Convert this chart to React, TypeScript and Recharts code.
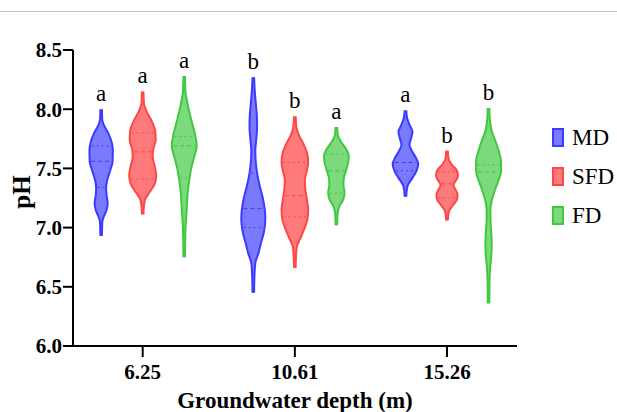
import React from 'react';
import { ComposedChart, Area, XAxis, YAxis, ReferenceLine, ReferenceDot, Label } from 'recharts';

const depths = ['6.25', '10.61', '15.26'];
const treatments = ['MD', 'SFD', 'FD'];
const yTicks = [6.0, 6.5, 7.0, 7.5, 8.0, 8.5];

// significance letters, one row per depth (MD, SFD, FD)
const letters = [
  ['a', 'a', 'a'],
  ['b', 'b', 'a'],
  ['a', 'b', 'b'],
];

const medians = [
  [7.56, 7.64, 7.69],
  [7.16, 7.27, 7.48],
  [7.55, 7.37, 7.47],
];
const upperQuartiles = [
  [7.69, 7.8, 7.77],
  [7.46, 7.55, 7.62],
  [null, 7.47, 7.53],
];
const lowerQuartiles = [
  [7.34, 7.41, 7.42],
  [7.0, 7.09, 7.29],
  [7.48, 7.25, null],
];

// violin outlines: [pH, density]
const md625 = [
  [8.0, 0.8], [7.92, 1.0], [7.87, 2.5], [7.8, 7], [7.72, 10.5], [7.65, 11.7], [7.56, 11.5],
  [7.48, 9], [7.4, 6], [7.33, 5], [7.27, 5.5], [7.21, 6.5], [7.15, 5.5], [7.1, 3], [7.05, 1.2], [6.93, 0.8],
];
const sfd625 = [
  [8.15, 0.8], [8.05, 1.2], [7.98, 4], [7.9, 9], [7.82, 12.5], [7.74, 13], [7.66, 10.5], [7.6, 10],
  [7.52, 12], [7.44, 13.5], [7.37, 12], [7.3, 7], [7.24, 2.5], [7.18, 1.2], [7.11, 0.8],
];
const fd625 = [
  [8.28, 0.8], [8.15, 1.2], [8.08, 2.5], [7.98, 5], [7.88, 8], [7.78, 11], [7.69, 12.5], [7.6, 10],
  [7.5, 7], [7.4, 5], [7.3, 3.5], [7.2, 2.8], [7.1, 2], [7.0, 1.3], [6.9, 1], [6.75, 0.8],
];
const md1061 = [
  [8.27, 0.8], [8.15, 1.5], [8.05, 2.5], [7.95, 3.5], [7.85, 3.8], [7.75, 3], [7.65, 2], [7.55, 2.5],
  [7.45, 4], [7.35, 6.5], [7.25, 9.5], [7.15, 11.5], [7.07, 12], [6.98, 11], [6.88, 8], [6.78, 5],
  [6.7, 2], [6.6, 1.2], [6.45, 0.8],
];
const sfd1061 = [
  [7.94, 0.8], [7.85, 1.5], [7.78, 4], [7.7, 9], [7.62, 12.5], [7.55, 13.3], [7.48, 12], [7.4, 10],
  [7.32, 10.5], [7.24, 12], [7.15, 13.3], [7.07, 12.5], [6.98, 9], [6.9, 5], [6.84, 2], [6.76, 1.2], [6.66, 0.8],
];
const fd1061 = [
  [7.85, 0.8], [7.78, 1.5], [7.72, 5], [7.66, 10], [7.6, 12.5], [7.54, 11.5], [7.48, 9.5], [7.42, 7.5],
  [7.36, 7], [7.3, 8.2], [7.24, 7], [7.18, 3], [7.12, 1.2], [7.02, 0.8],
];
const md1526 = [
  [7.99, 0.8], [7.93, 1.5], [7.87, 4], [7.81, 7], [7.75, 5.5], [7.7, 4], [7.64, 7], [7.58, 11],
  [7.54, 12.8], [7.48, 11], [7.42, 7], [7.36, 2.5], [7.31, 1.2], [7.26, 0.8],
];
const sfd1526 = [
  [7.65, 0.8], [7.58, 1.5], [7.53, 5], [7.48, 10], [7.44, 11], [7.4, 9], [7.36, 6.5], [7.32, 8.5],
  [7.28, 10.5], [7.24, 10], [7.19, 6], [7.14, 2], [7.1, 1.2], [7.06, 0.8],
];
const fd1526 = [
  [8.01, 0.8], [7.9, 1.5], [7.82, 3], [7.74, 6.5], [7.65, 10], [7.56, 12.5], [7.48, 12.5], [7.4, 10],
  [7.32, 6.5], [7.22, 3], [7.14, 1.8], [7.05, 2], [6.95, 2.8], [6.85, 3.2], [6.75, 2.6], [6.65, 1.5],
  [6.55, 1], [6.36, 0.8],
];

const profiles = [
  [md625, sfd625, fd625],
  [md1061, sfd1061, fd1061],
  [md1526, sfd1526, fd1526],
];

const COLORS = [
  { stroke: '#3b3bff', fill: '#7a7aff' },
  { stroke: '#ff4646', fill: '#ff7a7a' },
  { stroke: '#40c840', fill: '#7cd97c' },
];
const OFFSET = 0.273;
const WIDTH = 0.00657;
const FONT = '"Liberation Serif", "Times New Roman", serif';

// half width of a violin at a given pH (for the quartile lines)
const widthAt = (profile: number[][], ph: number) => {
  for (let i = 0; i < profile.length - 1; i++) {
    const [p0, d0] = profile[i];
    const [p1, d1] = profile[i + 1];
    if (ph <= p0 && ph >= p1) return d0 + ((p0 - ph) / (p0 - p1)) * (d1 - d0);
  }
  return 0;
};

export default function App() {
  const areas: React.ReactNode[] = [];
  const lines: React.ReactNode[] = [];
  const dots: React.ReactNode[] = [];

  depths.forEach((_, g) => {
    treatments.forEach((t, s) => {
      const profile = profiles[g][s];
      const cx = g + (s - 1) * OFFSET;
      const color = COLORS[s];
      const data = profile.map(([ph, d]) => ({ ph, range: [cx - d * WIDTH, cx + d * WIDTH] }));
      areas.push(
        <Area
          key={`a-${g}-${s}`}
          data={data}
          dataKey="range"
          type="monotone"
          stroke={color.stroke}
          strokeWidth={2}
          fill={color.fill}
          fillOpacity={1}
          dot={false}
          activeDot={false}
          isAnimationActive={false}
        />
      );
      const stats: [number | null, string][] = [
        [medians[g][s], '4 3'],
        [upperQuartiles[g][s], '2 3'],
        [lowerQuartiles[g][s], '2 3'],
      ];
      stats.forEach(([v, dash], k) => {
        if (v == null) return;
        const hw = Math.max(widthAt(profile, v) - 1.5, 0.5) * WIDTH;
        lines.push(
          <ReferenceLine
            key={`l-${g}-${s}-${k}`}
            segment={[{ x: cx - hw, y: v }, { x: cx + hw, y: v }]}
            stroke={color.stroke}
            strokeWidth={1}
            strokeDasharray={dash}
          />
        );
      });
      dots.push(
        <ReferenceDot
          key={`d-${g}-${s}`}
          x={cx}
          y={profile[0][0]}
          r={1}
          fill="none"
          stroke="none"
          label={{ value: letters[g][s], position: 'top', offset: 7, fill: '#000', fontSize: 23, fontFamily: FONT }}
        />
      );
    });
  });

  return (
    <div style={{ position: 'absolute', left: 0, top: 0, width: 617, height: 412, background: '#fff' }}>
      <div style={{ position: 'absolute', left: 0, top: 11, width: 617, height: 1, background: '#c4c4c4' }} />
      <ComposedChart
        width={617}
        height={412}
        layout="vertical"
        margin={{ top: 50, right: 100, bottom: 0, left: 0 }}
      >
        <XAxis
          type="number"
          domain={[-0.458, 2.46]}
          allowDataOverflow
          ticks={[0, 1, 2]}
          tickFormatter={(v) => depths[v]}
          height={66}
          tickSize={11}
          tickMargin={7}
          axisLine={{ stroke: '#000', strokeWidth: 2 }}
          tickLine={{ stroke: '#000', strokeWidth: 2 }}
          tick={{ fill: '#000', fontSize: 21, fontWeight: 'bold', fontFamily: FONT }}
        >
          <Label
            value="Groundwater depth (m)"
            position="insideBottom"
            offset={4}
            fill="#000"
            fontSize={23}
            fontWeight="bold"
            fontFamily={FONT}
          />
        </XAxis>
        <YAxis
          type="number"
          dataKey="ph"
          reversed
          domain={[6, 8.5]}
          allowDataOverflow
          ticks={yTicks}
          tickFormatter={(v) => v.toFixed(1)}
          width={73}
          tickSize={10}
          tickMargin={1}
          axisLine={{ stroke: '#000', strokeWidth: 2 }}
          tickLine={{ stroke: '#000', strokeWidth: 2 }}
          tick={{ fill: '#000', fontSize: 21, fontWeight: 'bold', fontFamily: FONT }}
        >
          <Label
            content={({ viewBox }: any) => {
              const x = viewBox.x + 30;
              const y = viewBox.y + viewBox.height / 2 - 6;
              return (
                <text
                  x={x}
                  y={y}
                  transform={`rotate(-90 ${x} ${y})`}
                  textAnchor="middle"
                  fill="#000"
                  fontSize={25}
                  fontWeight="bold"
                  fontFamily={FONT}
                >
                  pH
                </text>
              );
            }}
          />
        </YAxis>
        {areas}
        {lines}
        {dots}
      </ComposedChart>
      <svg style={{ position: 'absolute', left: 0, top: 0 }} width={617} height={412}>
        {treatments.map((t, i) => {
          const cy = 137.5 + i * 39;
          return (
            <g key={t}>
              <rect x={553} y={cy - 8.5} width={10} height={17} fill={COLORS[i].fill} stroke={COLORS[i].stroke} strokeWidth={2} />
              <text x={572} y={cy + 7.5} fontSize={23} fontFamily={FONT} fill="#000">
                {t}
              </text>
            </g>
          );
        })}
      </svg>
    </div>
  );
}
